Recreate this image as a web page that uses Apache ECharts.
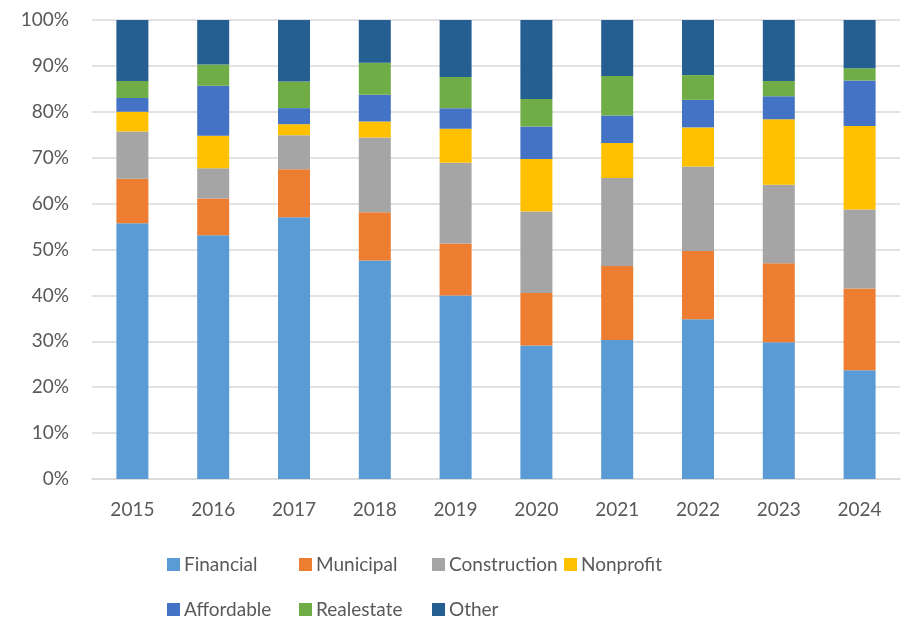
<!DOCTYPE html>
<html>
<head>
<meta charset="utf-8">
<script src="https://cdn.jsdelivr.net/npm/echarts@6/dist/echarts.min.js"></script>
<style>html,body{margin:0;padding:0;background:#fff}#c{width:909px;height:625px}</style>
</head>
<body>
<div id="c"></div>
<script>
const years = ['2015','2016','2017','2018','2019','2020','2021','2022','2023','2024'];
const financial    = [55.7, 53.1, 57.0, 47.6, 40.0, 29.1, 30.3, 34.8, 29.8, 23.7];
const municipal    = [ 9.7,  8.0, 10.5, 10.5, 11.3, 11.4, 16.1, 14.9, 17.2, 17.8];
const construction = [10.3,  6.6,  7.4, 16.3, 17.6, 17.8, 19.2, 18.4, 17.1, 17.2];
const nonprofit    = [ 4.3,  7.1,  2.4,  3.5,  7.4, 11.4,  7.6,  8.5, 14.3, 18.2];
const affordable   = [ 3.0, 10.9,  3.5,  5.8,  4.5,  7.1,  6.0,  6.0,  5.0,  9.9];
const realestate   = [ 3.7,  4.6,  5.8,  7.0,  6.8,  6.0,  8.6,  5.4,  3.3,  2.7];
const other        = [13.3,  9.7, 13.4,  9.3, 12.4, 17.2, 12.2, 12.0, 13.3, 10.5];
const yTicks = [0,10,20,30,40,50,60,70,80,90,100];

const seriesDefs = [
  ['Financial', financial, '#5B9BD5'],
  ['Municipal', municipal, '#ED7D31'],
  ['Construction', construction, '#A5A5A5'],
  ['Nonprofit', nonprofit, '#FFC000'],
  ['Affordable', affordable, '#4472C4'],
  ['Realestate', realestate, '#70AD47'],
  ['Other', other, '#255E91']
];
const legendPos = [[167,555],[299,555],[432,555],[564,555],[167,600],[299,600],[432,600]];

const font = 'Lato, "Open Sans", sans-serif';
const chart = echarts.init(document.getElementById('c'), null, {renderer:'canvas'});
chart.setOption({
  animation: false,
  grid: {left: 92, right: 9, top: 20, bottom: 146, containLabel: false},
  legend: seriesDefs.map((s, i) => ({
    data: [s[0]], left: legendPos[i][0], top: legendPos[i][1], padding: 0,
    icon: 'rect', itemWidth: 13, itemHeight: 13, itemGap: 0,
    textStyle: {fontFamily: font, fontSize: 19, color: '#595959', padding: [0,0,0,-1]}
  })),
  xAxis: {
    type: 'category', data: years,
    axisLine: {show: true, lineStyle: {color: '#D9D9D9', width: 1.5}},
    axisTick: {show: false},
    axisLabel: {fontFamily: font, fontSize: 19, color: '#595959', margin: 21}
  },
  yAxis: {
    type: 'value', min: 0, max: 100, interval: 10,
    axisLine: {show: false}, axisTick: {show: false},
    splitLine: {lineStyle: {color: '#D9D9D9', width: 1.5}},
    axisLabel: {fontFamily: font, fontSize: 19, color: '#595959', margin: 23,
      formatter: v => yTicks.includes(v) ? v + '%' : ''}
  },
  series: seriesDefs.map(s => ({
    name: s[0], type: 'bar', stack: 'total', data: s[1], barWidth: 32,
    itemStyle: {color: s[2]}
  }))
});
</script>
</body>
</html>
